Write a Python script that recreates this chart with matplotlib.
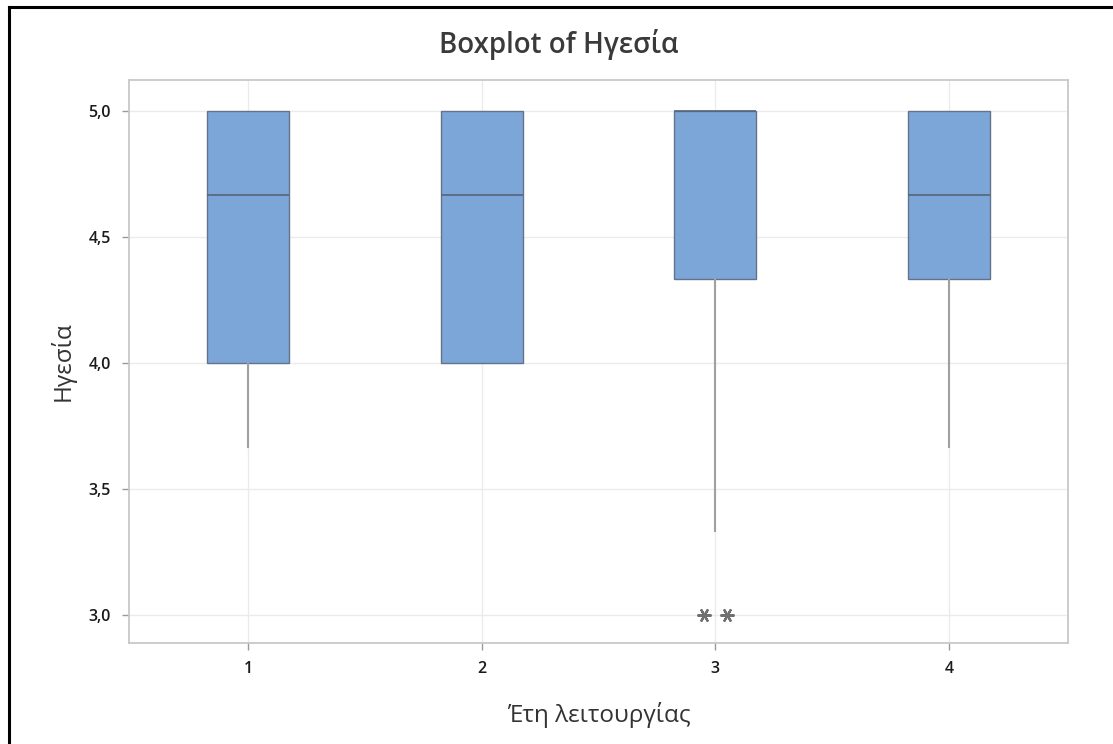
import matplotlib
matplotlib.use("Agg")
import matplotlib.pyplot as plt
from matplotlib.lines import Line2D
from matplotlib.ticker import FuncFormatter

plt.rcParams['font.family'] = ['Open Sans', 'DejaVu Sans']

# Group summary statistics (years of operation vs leadership score)
groups = ["1", "2", "3", "4"]
q1 = [4.0, 4.0, 4.3333, 4.3333]
median = [4.6667, 4.6667, 5.0, 4.6667]
q3 = [5.0, 5.0, 5.0, 5.0]
whisker_low = [3.6667, 4.0, 3.3333, 3.6667]
whisker_high = [5.0, 5.0, 5.0, 5.0]
outliers = [[], [], [3.0, 3.0], []]
y_ticks = [3.0, 3.5, 4.0, 4.5, 5.0]

title = "Boxplot of Ηγεσία"
x_label = "Έτη λειτουργίας"
y_label = "Ηγεσία"

fig = plt.figure(figsize=(11.13, 7.44), dpi=100)
ax = fig.add_axes([129 / 1113, 1 - 643 / 744, (1068 - 129) / 1113, (643 - 80) / 744])

stats = []
for i in range(len(groups)):
    stats.append(dict(med=median[i], q1=q1[i], q3=q3[i],
                      whislo=whisker_low[i], whishi=whisker_high[i],
                      fliers=[], label=groups[i]))

positions = list(range(1, len(groups) + 1))
ax.bxp(stats, positions=positions, widths=0.35, patch_artist=True,
       showcaps=False, showfliers=False,
       boxprops=dict(facecolor="#7DA6D8", edgecolor="#64738A", linewidth=1.0),
       medianprops=dict(color="#55657C", linewidth=1.2),
       whiskerprops=dict(color="#A0A0A0", linewidth=1.5),
       zorder=3)

# Tied outliers are drawn side by side
for pos, vals in zip(positions, outliers):
    n = len(vals)
    for k, v in enumerate(vals):
        off = (k - (n - 1) / 2) * 0.1
        ax.plot(pos + off, v, linestyle="none", marker=(6, 2, 90),
                markersize=10, markeredgewidth=1.6, color="#707070", zorder=4)

ax.set_xlim(0.49, 4.51)
ax.set_ylim(2.889, 5.123)
ax.set_xticks(positions)
ax.set_xticklabels(groups)
ax.set_yticks(y_ticks)
ax.yaxis.set_major_formatter(FuncFormatter(lambda v, p: f"{v:.1f}".replace(".", ",")))

ax.grid(True, color="#EBEBEB", linewidth=1.0, zorder=0)
ax.set_axisbelow(True)
for s in ax.spines.values():
    s.set_color("#C8C8C8")
    s.set_linewidth(1.3)
ax.tick_params(axis="both", colors="#9A9A9A", length=5, width=1.0,
               labelsize=11.5, labelcolor="#1A1A1A", pad=8)
for lbl in ax.get_xticklabels() + ax.get_yticklabels():
    lbl.set_fontweight("semibold")

ax.set_xlabel(x_label, fontsize=17.5, color="#333333")
ax.set_ylabel(y_label, fontsize=17.5, color="#333333")
ax.xaxis.label.set_va("center")
ax.yaxis.label.set_va("center")
ax.xaxis.set_label_coords(0.5, -0.128)
ax.yaxis.set_label_coords(-0.0703, 0.5)

fig.text(559 / 1113, 1 - 45 / 744, title, ha="center", va="center",
         fontsize=20, color="#3A3A3A", fontweight="semibold")

# Outer frame (top and left edges)
fig.add_artist(Line2D([9 / 1113, 9 / 1113], [0, 1 - 7 / 744],
                      transform=fig.transFigure, color="black", linewidth=2.2))
fig.add_artist(Line2D([9 / 1113, 1], [1 - 7 / 744, 1 - 7 / 744],
                      transform=fig.transFigure, color="black", linewidth=2.2))

fig.savefig("out.png", dpi=100)
